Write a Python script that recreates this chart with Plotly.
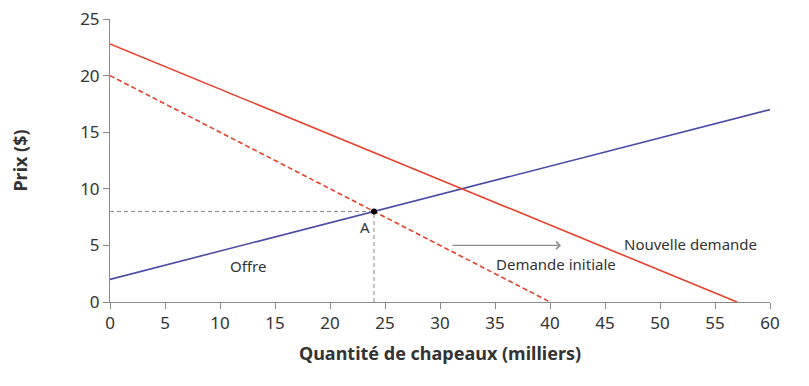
import plotly.graph_objects as go

# Data
supply_q = [0, 60]
supply_p = [2, 17]
init_demand_q = [0, 40]
init_demand_p = [20, 0]
new_demand_q = [0, 57]
new_demand_p = [22.8, 0]
eq_q = 24
eq_p = 8
x_ticks = [0, 5, 10, 15, 20, 25, 30, 35, 40, 45, 50, 55, 60]
y_ticks = [0, 5, 10, 15, 20, 25]

RED = "#e4412c"
BLUE = "#4a4ca6"
GREY = "#8a8a8a"
FONT = "Noto Sans"

fig = go.Figure()
fig.add_trace(go.Scatter(x=[0, eq_q], y=[eq_p, eq_p], mode="lines",
                         line=dict(color=GREY, width=1, dash="4px,3px"), hoverinfo="skip"))
fig.add_trace(go.Scatter(x=[eq_q, eq_q], y=[0, eq_p], mode="lines",
                         line=dict(color=GREY, width=1, dash="4px,3px"), hoverinfo="skip"))
fig.add_trace(go.Scatter(x=supply_q, y=supply_p, mode="lines", line=dict(color=BLUE, width=1.6)))
fig.add_trace(go.Scatter(x=init_demand_q, y=init_demand_p, mode="lines",
                         line=dict(color=RED, width=1.6, dash="5px,3px")))
fig.add_trace(go.Scatter(x=new_demand_q, y=new_demand_p, mode="lines", line=dict(color=RED, width=1.6)))
fig.add_trace(go.Scatter(x=[eq_q], y=[eq_p], mode="markers", marker=dict(color="black", size=6)))

txt = dict(family=FONT, size=15, color="#333333")
fig.add_annotation(x=12.5, y=3.2, text="Offre", showarrow=False, font=txt)
fig.add_annotation(x=40.5, y=3.4, text="Demande initiale", showarrow=False, font=txt)
fig.add_annotation(x=52.8, y=5.1, text="Nouvelle demande", showarrow=False, font=txt)
fig.add_annotation(x=23.2, y=6.6, text="A", showarrow=False, font=txt)
fig.add_annotation(x=41, y=5, ax=31, ay=5, xref="x", yref="y", axref="x", ayref="y",
                   text="", showarrow=True, arrowhead=4, arrowsize=1.2, arrowwidth=1.2,
                   arrowcolor=GREY)

axis_common = dict(showgrid=False, zeroline=False, showline=True, linecolor=GREY, linewidth=1,
                   ticks="outside", ticklen=6, tickcolor=GREY, automargin=False,
                   ticklabeloverflow="allow",
                   tickfont=dict(family=FONT, size=17, color="#333333"))
fig.update_xaxes(range=[0, 60], tickvals=x_ticks, **axis_common,
                 title=dict(text="<b>Quantité de chapeaux (milliers)</b>",
                            font=dict(family=FONT, size=18, color="#333333"), standoff=13))
fig.update_yaxes(range=[0, 25], tickvals=y_ticks, **axis_common,
                 title=dict(text="<b>Prix ($)</b>",
                            font=dict(family=FONT, size=18, color="#333333"), standoff=47))
fig.update_layout(width=809, height=386, showlegend=False,
                  margin=dict(l=102, r=47, t=11, b=92),
                  plot_bgcolor="white", paper_bgcolor="white")
fig.write_html("out.html")
